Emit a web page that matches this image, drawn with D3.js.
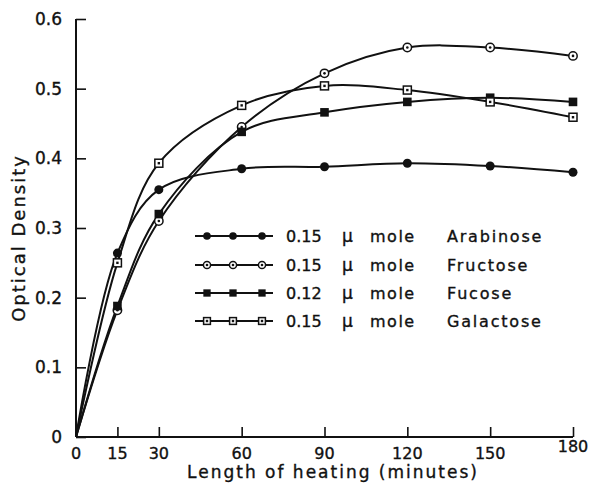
<!DOCTYPE html>
<html>
<head>
<meta charset="utf-8">
<script src="https://cdn.jsdelivr.net/npm/d3@7"></script>
<style>
  body { margin: 0; background: #fff; }
  text { font-family: "DejaVu Sans", sans-serif; fill: #111; stroke: #111; stroke-width: 0.35px; }
</style>
</head>
<body>
<div id="chart"></div>
<script>
// data
var minutes = [0, 15, 30, 60, 90, 120, 150, 180];
var arabinose = [0, 0.264, 0.355, 0.385, 0.388, 0.393, 0.389, 0.380];
var fructose  = [0, 0.182, 0.310, 0.445, 0.522, 0.559, 0.559, 0.547];
var fucose    = [0, 0.188, 0.320, 0.438, 0.466, 0.481, 0.487, 0.481];
var galactose = [0, 0.250, 0.393, 0.476, 0.504, 0.498, 0.481, 0.459];
var xTicks = [0, 15, 30, 60, 90, 120, 150, 180];
var yTicks = [0, 0.1, 0.2, 0.3, 0.4, 0.5, 0.6];

var series = [
  {amount: "0.15", name: "Arabinose", values: arabinose, marker: "dot"},
  {amount: "0.15", name: "Fructose", values: fructose, marker: "ring"},
  {amount: "0.12", name: "Fucose", values: fucose, marker: "square"},
  {amount: "0.15", name: "Galactose", values: galactose, marker: "box"}
];

var width = 591, height = 484;
var svg = d3.select("#chart").append("svg")
    .attr("width", width)
    .attr("height", height);

var x = d3.scaleLinear().domain([0, 180]).range([76, 573]);
var y = d3.scaleLinear().domain([0, 0.6]).range([437, 19]);

// axes, ticks point inward
svg.append("g")
    .attr("transform", "translate(0," + y(0) + ")")
    .call(d3.axisTop(x).tickValues(xTicks).tickSize(10).tickFormat(""));
svg.append("g")
    .attr("transform", "translate(" + x(0) + ",0)")
    .call(d3.axisRight(y).tickValues(yTicks).tickSize(10).tickFormat(""));
svg.selectAll(".domain").remove();
svg.selectAll(".tick line").attr("stroke", "#111").attr("stroke-width", 1.6);
svg.append("line").attr("x1", x(0)).attr("x2", x(180)).attr("y1", y(0)).attr("y2", y(0))
    .attr("stroke", "#111").attr("stroke-width", 2);
svg.append("line").attr("x1", x(0)).attr("x2", x(0)).attr("y1", y(0)).attr("y2", y(0.6))
    .attr("stroke", "#111").attr("stroke-width", 2);

svg.selectAll(".xlab").data(xTicks).enter().append("text")
    .attr("x", function(d) { return x(d); })
    .attr("y", function(d) { return d === 180 ? 452 : 459; })
    .attr("text-anchor", "middle")
    .style("font-size", "16px")
    .text(function(d) { return d; });

svg.selectAll(".ylab").data(yTicks).enter().append("text")
    .attr("x", 62)
    .attr("y", function(d) { return y(d) + 6; })
    .attr("text-anchor", "end")
    .style("font-size", "17px")
    .text(function(d) { return d === 0 ? "0" : d3.format(".1f")(d); });

svg.append("text")
    .attr("transform", "translate(25,238) rotate(-90)")
    .attr("text-anchor", "middle")
    .style("font-size", "18px")
    .style("letter-spacing", "2px")
    .text("Optical  Density");

svg.append("text")
    .attr("x", 333)
    .attr("y", 478)
    .attr("text-anchor", "middle")
    .style("font-size", "17px")
    .style("letter-spacing", "2px")
    .text("Length of heating (minutes)");

var line = d3.line()
    .x(function(d, i) { return x(minutes[i]); })
    .y(function(d) { return y(d); })
    .curve(d3.curveCatmullRom.alpha(0.5));

function drawMarker(g, type, cx, cy, k) {
  k = k || 1;
  if (type === "dot") {
    g.append("circle").attr("cx", cx).attr("cy", cy).attr("r", 4.5 * k).attr("fill", "#111");
  } else if (type === "ring") {
    g.append("circle").attr("cx", cx).attr("cy", cy).attr("r", 4.2 * k)
        .attr("fill", "#fff").attr("stroke", "#111").attr("stroke-width", 1.5);
    g.append("circle").attr("cx", cx).attr("cy", cy).attr("r", 1.3).attr("fill", "#111");
  } else if (type === "square") {
    g.append("rect").attr("x", cx - 4.3 * k).attr("y", cy - 4.3 * k)
        .attr("width", 8.6 * k).attr("height", 8.6 * k).attr("fill", "#111");
  } else {
    g.append("rect").attr("x", cx - 4 * k).attr("y", cy - 4 * k)
        .attr("width", 8 * k).attr("height", 8 * k)
        .attr("fill", "#fff").attr("stroke", "#111").attr("stroke-width", 1.5);
    g.append("rect").attr("x", cx - 1.2).attr("y", cy - 1.2).attr("width", 2.4).attr("height", 2.4)
        .attr("fill", "#111");
  }
}

series.forEach(function(s) {
  svg.append("path")
      .attr("d", line(s.values))
      .attr("fill", "none")
      .attr("stroke", "#111")
      .attr("stroke-width", 2);
});
series.forEach(function(s) {
  var g = svg.append("g");
  s.values.forEach(function(v, i) {
    if (i === 0) return;
    drawMarker(g, s.marker, x(minutes[i]), y(v));
  });
});

// legend
var legendY = [236, 265, 293, 321];
series.forEach(function(s, i) {
  var g = svg.append("g").attr("transform", "translate(0," + legendY[i] + ")");
  g.append("line").attr("x1", 195).attr("x2", 273).attr("y1", 0).attr("y2", 0)
      .attr("stroke", "#111").attr("stroke-width", 2);
  [207, 233, 262].forEach(function(mx) { drawMarker(g, s.marker, mx, 0, 0.85); });
  g.append("text").attr("x", 286).attr("y", 6).style("font-size", "16px").text(s.amount);
  g.append("text").attr("x", 342).attr("y", 6).style("font-size", "17px").text("\u03bc");
  g.append("text").attr("x", 370).attr("y", 6).style("font-size", "16px").style("letter-spacing", "1.5px").text("mole");
  g.append("text").attr("x", 447).attr("y", 6).style("font-size", "16px").style("letter-spacing", "1.8px").text(s.name);
});
</script>
</body>
</html>
